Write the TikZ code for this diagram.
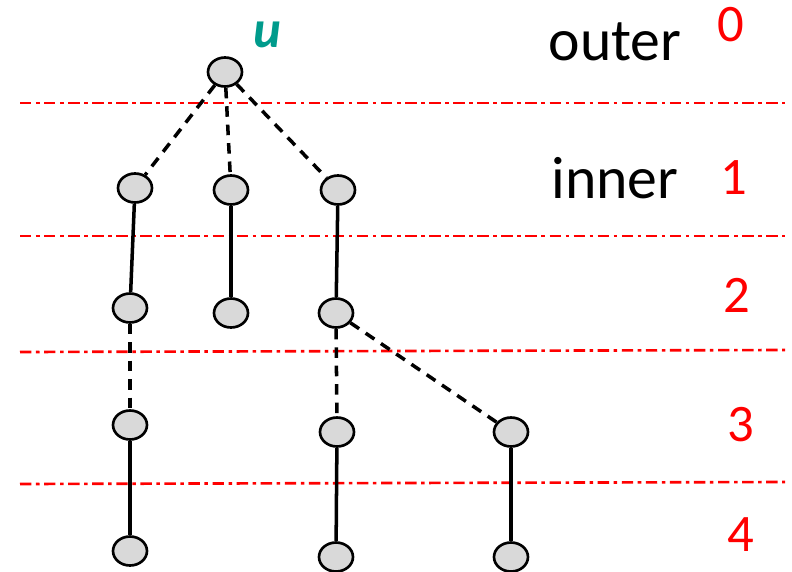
\documentclass[tikz,border=0pt]{standalone}
\usepackage{fontspec}
\setmainfont{Carlito}
\usetikzlibrary{shapes.geometric}
\definecolor{labelteal}{RGB}{0,155,140}

\begin{document}
\begin{tikzpicture}[x=0.02cm, y=-0.02cm,
    vert/.style={ellipse, draw=black, fill=gray!30, line width=1.5pt, minimum width=0.68cm, minimum height=0.58cm, inner sep=0pt},
    tree/.style={line width=2pt},
    treedash/.style={tree, dash pattern=on 6pt off 4.5pt},
    layer/.style={red, line width=1.5pt, dash pattern=on 6.5pt off 2.6pt on 2pt off 2.6pt},
    levelno/.style={red, font=\fontsize{30}{30}\selectfont}]

    \useasboundingbox (0,0) rectangle (792,572);

    % Draw the layer separators
    \draw[layer] (20,103) -- (785,103);
    \draw[layer] (20,236) -- (785,236);
    \draw[layer] (20,352) -- (785,350);
    \draw[layer] (20,484) -- (785,482);

    % Draw the vertices
    \node[vert] (u) at (225,72) {};
    \node[vert] (a1) at (135,188) {};
    \node[vert] (a2) at (231,190) {};
    \node[vert] (a3) at (338,190) {};
    \node[vert] (b1) at (130,308) {};
    \node[vert] (b2) at (231,313) {};
    \node[vert] (b3) at (336,313) {};
    \node[vert] (c1) at (130,425) {};
    \node[vert] (c3) at (337,432) {};
    \node[vert] (c4) at (511,432) {};
    \node[vert] (d1) at (130,551) {};
    \node[vert] (d3) at (336,557) {};
    \node[vert] (d4) at (511,557) {};

    % Draw the edges
    \draw[treedash] (u) -- (a1);
    \draw[treedash] (u) -- (a2);
    \draw[treedash] (u) -- (a3);
    \draw[tree] (a1) -- (b1);
    \draw[tree] (a2) -- (b2);
    \draw[tree] (a3) -- (b3);
    \draw[treedash] (b1) -- (c1);
    \draw[treedash] (b3) -- (c3);
    \draw[treedash] (b3) -- (c4);
    \draw[tree] (c1) -- (d1);
    \draw[tree] (c3) -- (d3);
    \draw[tree] (c4) -- (d4);

    % Add the labels
    \node[text=labelteal, font=\fontsize{30}{30}\selectfont\bfseries\itshape] (lu) at (267,35) {u};
    \node[font=\fontsize{34}{34}\selectfont] (outer) at (615,42) {outer};
    \node[font=\fontsize{34}{34}\selectfont] (inner) at (615,178) {inner};
    \node[levelno] (n0) at (731,25) {0};
    \node[levelno] (n1) at (734,178) {1};
    \node[levelno] (n2) at (737,295) {2};
    \node[levelno] (n3) at (741,425) {3};
    \node[levelno] (n4) at (741,535) {4};

\end{tikzpicture}
\end{document}
